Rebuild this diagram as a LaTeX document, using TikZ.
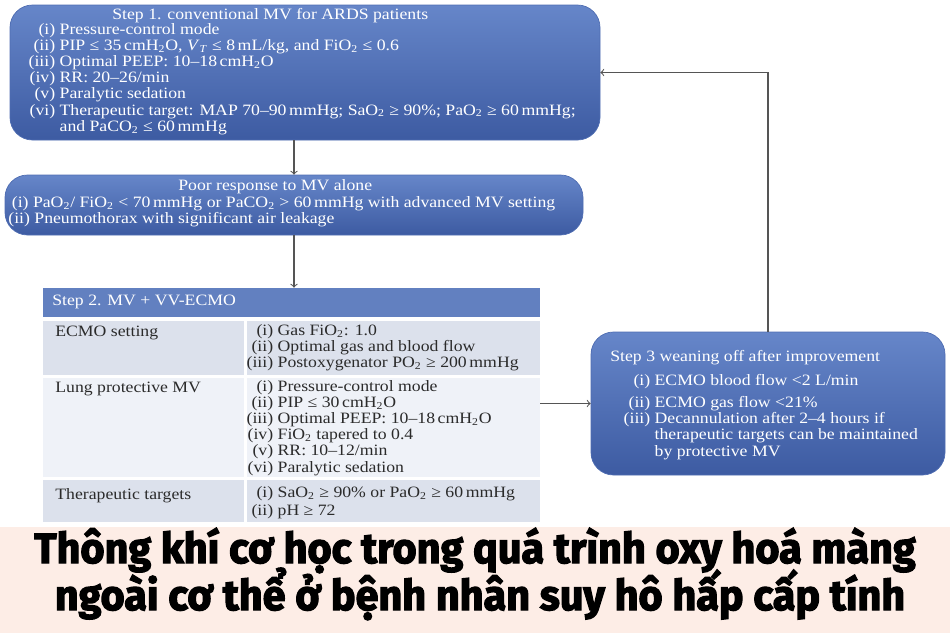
\documentclass[tikz,border=0pt]{standalone}
\usepackage{fontspec}
\setmainfont{Liberation Serif}[FakeStretch=1.12]
\newfontfamily\bannerfont{Fira Sans}[BoldFeatures={FakeBold=3}]
\usetikzlibrary{fit,positioning,arrows}

\newcommand{\lo}[1]{\textsubscript{#1}}
\newcommand{\itm}[1]{\makebox[1.7em][r]{#1}\ }

\definecolor{boxtop}{HTML}{6686C9}
\definecolor{boxbot}{HTML}{3D5BA2}
\definecolor{boxline}{HTML}{4F6DB2}
\definecolor{headblue}{HTML}{6280C0}
\definecolor{rowdark}{HTML}{DCE1EC}
\definecolor{rowlight}{HTML}{EFF2F8}
\definecolor{celltext}{HTML}{2B2B2B}
\definecolor{bannerbg}{HTML}{FDEDE6}
\definecolor{linkgray}{HTML}{555555}

\begin{document}
\begin{tikzpicture}[x=0.02cm,y=-0.02cm]
\tikzstyle{stepbox}=[rectangle, rounded corners=0.45cm, top color=boxtop, bottom color=boxbot, draw=boxline, inner sep=0pt]
\tikzstyle{cell}=[rectangle, inner sep=0pt]
\tikzstyle{txt}=[anchor=north west, inner sep=0pt, align=left, font=\fontsize{9}{9.2}\selectfont]
\tikzstyle{connect}=[->, draw=linkgray, semithick]
\tikzstyle{headline}=[anchor=base, inner sep=0pt, font=\bannerfont\bfseries\fontsize{24}{26}\selectfont]
\useasboundingbox (0,0) rectangle (950,633);
% 1. Boxes
%%%%%%%%%%
\node[stepbox, fit={(10,5) (600,140)}] (step1) {};
\node[stepbox, fit={(5,175) (583,235)}] (poor) {};
\node[stepbox, fit={(591,332) (945,475)}] (step3) {};

\node[cell, fill=headblue, fit={(43,288) (540,317)}] (head) {};
\node[cell, fill=rowdark, fit={(43,321) (244,375)}] (ecmoL) {};
\node[cell, fill=rowdark, fit={(247,321) (540,375)}] (ecmoR) {};
\node[cell, fill=rowlight, fit={(43,378) (244,477)}] (lungL) {};
\node[cell, fill=rowlight, fit={(247,378) (540,477)}] (lungR) {};
\node[cell, fill=rowdark, fit={(43,480) (244,522)}] (targL) {};
\node[cell, fill=rowdark, fit={(247,480) (540,522)}] (targR) {};
\node[cell, fit={(43,288) (540,522)}] (step2) {};

\node[cell, fill=bannerbg, fit={(0,527) (950,633)}] (banner) {};
% 2. Texts
%%%%%%%%%%
\node[txt, text=white] (step1title) at (112,8) {Step 1. conventional MV for ARDS patients};
\node[txt, text=white] (step1list) at (28,23) {
  \itm{(i)}Pressure-control mode\\
  \itm{(ii)}PIP ≤ 35\,cmH\lo{2}O, \textit{V}\lo{\textit{T}} ≤ 8\,mL/kg, and FiO\lo{2} ≤ 0.6\\
  \itm{(iii)}Optimal PEEP: 10–18\,cmH\lo{2}O\\
  \itm{(iv)}RR: 20–26/min\\
  \itm{(v)}Paralytic sedation\\
  \itm{(vi)}Therapeutic target: MAP 70–90\,mmHg; SaO\lo{2} ≥ 90\%; PaO\lo{2} ≥ 60\,mmHg;\\
  \itm{}and PaCO\lo{2} ≤ 60\,mmHg};

\node[txt, text=white] (poortitle) at (178,179) {Poor response to MV alone};
\node[txt, text=white] (poorlist) at (8,196) {
  \hspace{2pt}(i) PaO\lo{2}/ FiO\lo{2} < 70\,mmHg or PaCO\lo{2} > 60\,mmHg with advanced MV setting\\
  (ii) Pneumothorax with significant air leakage};

\node[txt, text=white] (step2title) at (52,295) {Step 2. MV + VV-ECMO};
\node[txt, text=celltext] (ecmotxt) at (55,326) {ECMO setting};
\node[txt, text=celltext] (lungtxt) at (55,382) {Lung protective MV};
\node[txt, text=celltext] (targtxt) at (55,488) {Therapeutic targets};

\node[txt, text=celltext] (ecmolist) at (246,324) {
  \itm{(i)}Gas FiO\lo{2}: 1.0\\
  \itm{(ii)}Optimal gas and blood flow\\
  \itm{(iii)}Postoxygenator PO\lo{2} ≥ 200\,mmHg};
\node[txt, text=celltext] (lunglist) at (246,380) {
  \itm{(i)}Pressure-control mode\\
  \itm{(ii)}PIP ≤ 30\,cmH\lo{2}O\\
  \itm{(iii)}Optimal PEEP: 10–18\,cmH\lo{2}O\\
  \itm{(iv)}FiO\lo{2} tapered to 0.4\\
  \itm{(v)}RR: 10–12/min\\
  \itm{(vi)}Paralytic sedation};
\node[txt, text=celltext] (targlist) at (246,486) {
  \itm{(i)}SaO\lo{2} ≥ 90\% or PaO\lo{2} ≥ 60\,mmHg\\[1pt]
  \itm{(ii)}pH ≥ 72};

\node[txt, text=white] (step3title) at (610,350) {Step 3 weaning off after improvement};
\node[txt, text=white] (step3list) at (623,374) {
  \itm{(i)}ECMO blood flow <2 L/min\\[3.4pt]
  \itm{(ii)}ECMO gas flow <21\%\\
  \itm{(iii)}Decannulation after 2–4 hours if\\
  \itm{}therapeutic targets can be maintained\\
  \itm{}by protective MV};

\node[headline] (bannerl1) at (475,563) {\scalebox{0.98}[1]{Thông khí cơ học trong quá trình oxy hoá màng}};
\node[headline] (bannerl2) at (480,610) {\scalebox{0.98}[1]{ngoài cơ thể ở bệnh nhân suy hô hấp cấp tính}};
% 3. Arrows
%%%%%%%%%%%
\draw[connect] (step1.south -| poor.north) -- (poor.north);
\draw[connect] (poor.south) -- (poor.south |- step2.north);
\draw[connect] (step2.east |- step3.west) -- (step3.west);
\draw[connect] (step3.north) |- (step1.east);

\end{tikzpicture}
\end{document}
